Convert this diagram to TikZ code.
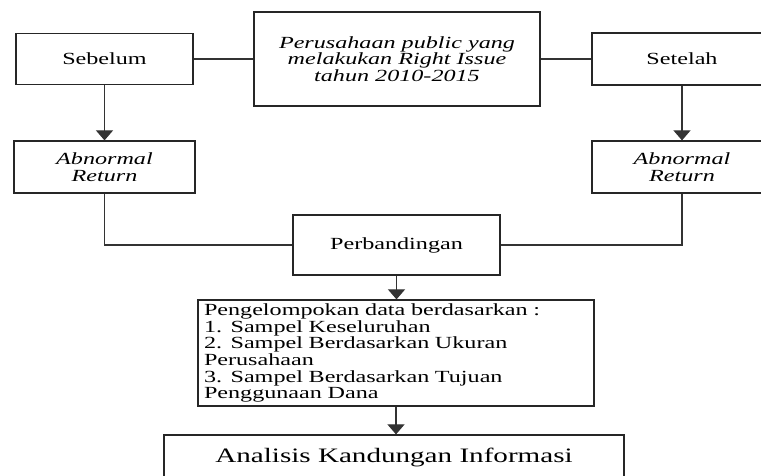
\documentclass[tikz,border=0pt]{standalone}
\usepackage{fontspec}
\setmainfont{Liberation Serif}[FakeStretch=1.42]
\usetikzlibrary{arrows.meta}
\newcommand{\diagfont}{\fontsize{17}{16.7}\selectfont}
\tikzset{
  box/.style={draw=black!85, line width=1.2pt, align=center, inner sep=2pt},
  link/.style={draw=black!80, line width=1.1pt},
  flow/.style={link, -{Triangle[length=10pt,width=17pt]}},
}

\begin{document}
\begin{tikzpicture}[x=1pt,y=-1pt,every node/.style={font=\diagfont}]
\useasboundingbox (0,0) rectangle (761,476);
\clip (0,0) rectangle (761,476);
% top row
\node[box,minimum width=177pt,minimum height=51pt] (before) at (104.5,59) {Sebelum};
\node[box,minimum width=286pt,minimum height=94pt,font=\diagfont\itshape] (firm) at (397,59)
  {Perusahaan public yang\\melakukan Right Issue\\tahun 2010-2015};
\node[box,minimum width=180pt,minimum height=52pt] (after) at (682,59) {Setelah};
% abnormal return
\node[box,minimum width=181pt,minimum height=52pt,font=\diagfont\itshape] (arl) at (104.5,167) {Abnormal\\Return};
\node[box,minimum width=180pt,minimum height=52pt,font=\diagfont\itshape] (arr) at (682,167) {Abnormal\\Return};
% lower chain
\node[box,minimum width=207pt,minimum height=60pt] (cmp) at (396.5,245) {Perbandingan};
\node[box,align=left,inner xsep=6pt,text width=384pt,minimum height=106pt] (grp) at (396,353)
  {Pengelompokan data berdasarkan :\\1. Sampel Keseluruhan\\2. Sampel Berdasarkan Ukuran\\Perusahaan\\3. Sampel Berdasarkan Tujuan\\Penggunaan Dana};
\node[box,minimum width=460pt,minimum height=44pt,font=\fontsize{20.5}{22}\selectfont] (ana) at (394,457) {Analisis Kandungan Informasi};
% connectors
\draw[link] (before) -- (firm);
\draw[link] (firm) -- (after);
\draw[flow] (before) -- (arl);
\draw[flow] (after) -- (arr);
\draw[link] (arl.south) |- (cmp.west);
\draw[link] (arr.south) |- (cmp.east);
\draw[flow] (cmp.south) -- (cmp.south |- grp.north);
\draw[flow] (grp.south) -- (grp.south |- ana.north);
\end{tikzpicture}
\end{document}
